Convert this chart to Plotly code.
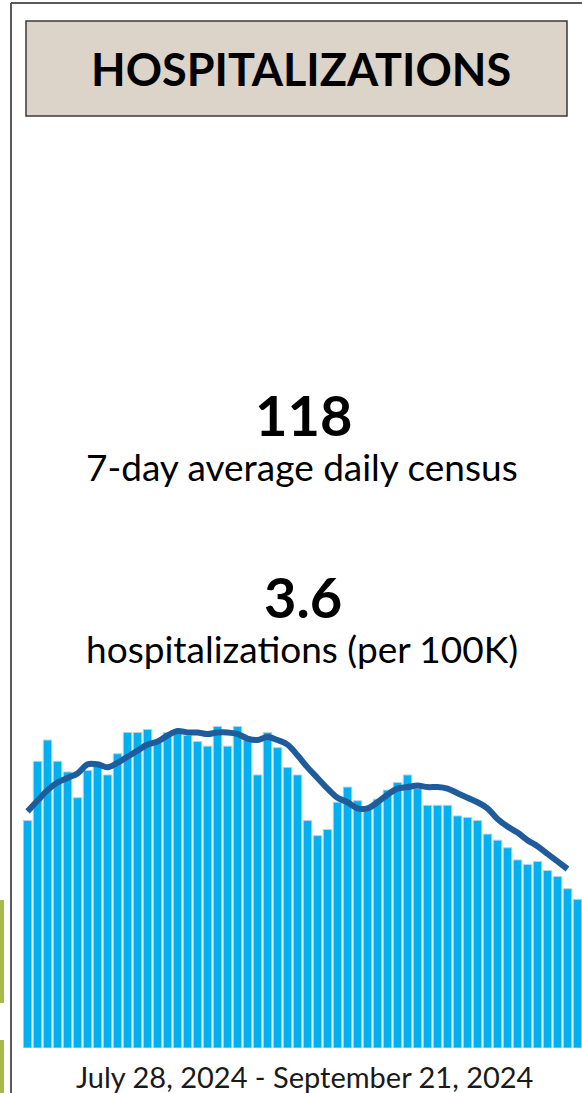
import plotly.graph_objects as go

W, H = 582, 1093

# ---- data ----
days = list(range(56))  # July 28, 2024 ... September 21, 2024
daily_census = [150, 189, 203, 189, 182, 165, 183, 187, 180, 194,
                208, 208, 210, 203, 208, 210, 206, 202, 199, 212,
                199, 212, 203, 180, 208, 198, 185, 180, 150, 140,
                144, 162, 172, 163, 158, 164, 170, 175, 180, 171,
                160, 160, 160, 153, 152, 150, 141, 137, 132, 124,
                121, 123, 117, 113, 105, 98]
avg_7day = [156, 163, 170, 175, 178, 181, 187, 187, 185, 188,
            192, 196, 200, 202, 206, 209, 208, 208, 207, 208,
            208, 207, 204, 203, 205, 203, 200, 193, 185, 178,
            171, 165, 162, 158, 158, 162, 167, 171, 172, 173,
            172, 172, 171, 168, 165, 162, 158, 151, 146, 142,
            137, 133, 128, 123, 118, None]

title_text = "HOSPITALIZATIONS"
census_value = "118"
census_label = "7-day average daily census"
rate_value = "3.6"
rate_label = "hospitalizations (per 100K)"
date_range = "July 28, 2024 - September 21, 2024"

# ---- layout helpers ----
def py(y):  # pixel y -> paper y
    return 1 - y / H

def px(x):
    return x / W

base_px, top_px = 1048, 700
units_per_px = 118 / 179
y_top = (base_px - top_px) * units_per_px

FONT = "Lato"

fig = go.Figure()
fig.add_trace(go.Bar(
    x=days, y=daily_census,
    marker=dict(color="#00b0f0", line=dict(color="#b9d3de", width=1)),
    hoverinfo="skip",
))
fig.add_trace(go.Scatter(
    x=days, y=avg_7day, mode="lines",
    line=dict(color="#1f5c9c", width=6, shape="spline", smoothing=1.0),
    hoverinfo="skip",
))

fig.update_layout(
    width=W, height=H,
    margin=dict(l=0, r=0, t=0, b=0),
    paper_bgcolor="white", plot_bgcolor="white",
    showlegend=False,
    bargap=0.15,
    xaxis=dict(domain=[px(22.5), 1], range=[-0.5, 55.45], visible=False, fixedrange=True),
    yaxis=dict(domain=[py(base_px), py(top_px)], range=[0, y_top], visible=False, fixedrange=True),
    shapes=[
        # outer panel frame
        dict(type="line", xref="paper", yref="paper", x0=px(11), x1=px(11), y0=0, y1=py(3),
             line=dict(color="#5a5a5a", width=2)),
        dict(type="line", xref="paper", yref="paper", x0=px(11), x1=1, y0=py(3), y1=py(3),
             line=dict(color="#5a5a5a", width=2)),
        # title box
        dict(type="rect", xref="paper", yref="paper", x0=px(26), x1=px(567), y0=py(116), y1=py(21),
             fillcolor="#dcd3c9", line=dict(color="#3a3a3a", width=1.5)),
        # neighbouring panel edges (green)
        dict(type="rect", xref="paper", yref="paper", x0=0, x1=px(4), y0=py(1003), y1=py(900),
             fillcolor="#a8ba48", line=dict(width=0)),
        dict(type="rect", xref="paper", yref="paper", x0=0, x1=px(4), y0=0, y1=py(1040),
             fillcolor="#a8ba48", line=dict(width=0)),
    ],
    annotations=[
        dict(text="<b>%s</b>" % title_text, xref="paper", yref="paper", x=px(301), y=py(69),
             xanchor="center", yanchor="middle", showarrow=False,
             font=dict(family=FONT, size=45, color="#000000")),
        dict(text="<b>%s</b>" % census_value, xref="paper", yref="paper", x=px(303), y=py(415),
             xanchor="center", yanchor="middle", showarrow=False,
             font=dict(family=FONT, size=56, color="#000000")),
        dict(text=census_label, xref="paper", yref="paper", x=px(302), y=py(466),
             xanchor="center", yanchor="middle", showarrow=False,
             font=dict(family=FONT, size=37, color="#000000")),
        dict(text="<b>%s</b>" % rate_value, xref="paper", yref="paper", x=px(303), y=py(597),
             xanchor="center", yanchor="middle", showarrow=False,
             font=dict(family=FONT, size=56, color="#000000")),
        dict(text=rate_label, xref="paper", yref="paper", x=px(302), y=py(648),
             xanchor="center", yanchor="middle", showarrow=False,
             font=dict(family=FONT, size=37, color="#000000")),
        dict(text=date_range, xref="paper", yref="paper", x=px(304), y=py(1076),
             xanchor="center", yanchor="middle", showarrow=False,
             font=dict(family=FONT, size=29, color="#1a1a1a")),
    ],
)

fig.write_html(
    "out.html",
    config={"displayModeBar": False},
    post_script="document.body.style.margin='0';document.body.style.overflow='hidden';",
)
